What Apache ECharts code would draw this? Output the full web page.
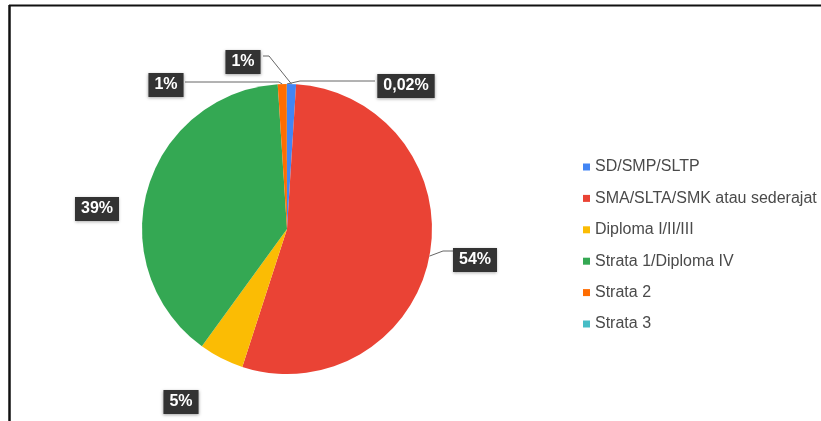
<!DOCTYPE html>
<html>
<head>
<meta charset="utf-8">
<script src="https://cdn.jsdelivr.net/npm/echarts@6/dist/echarts.min.js"></script>
<style>
  html, body { margin: 0; padding: 0; background: #ffffff; }
  #chart { width: 821px; height: 421px; }
</style>
</head>
<body>
<div id="chart"></div>
<script>
// Education levels and their share (%)
const categories = [
  'SD/SMP/SLTP',
  'SMA/SLTA/SMK atau sederajat',
  'Diploma I/II/III',
  'Strata 1/Diploma IV',
  'Strata 2',
  'Strata 3'
];
const shares = [1, 54, 5, 39, 1, 0.02];

// Slice colours
const colors = ['#4285F4', '#EA4335', '#FBBC04', '#34A853', '#FF6D01', '#46BDC6'];

// Label box centres and leader-line bends, per slice
const labelCentres = [[243, 62], [475, 260], [181, 402], [97, 209], [166, 85], [406, 86]];
const leaderBends = [[[269, 56], [263, 56]], [[443, 251], [453, 251]], null, null, [[279, 82], [185, 82]], [[300, 81], [375, 81]]];

const chart = echarts.init(document.getElementById('chart'), null, { renderer: 'canvas' });

const data = categories.map((name, i) => ({
  name: name,
  value: shares[i],
  itemStyle: { color: colors[i] },
  labelLine: { show: leaderBends[i] !== null }
}));

chart.setOption({
  backgroundColor: '#ffffff',
  animation: false,
  legend: {
    orient: 'vertical',
    left: 578,
    top: 154,
    icon: 'rect',
    itemWidth: 7,
    itemHeight: 7,
    itemGap: 15.4,
    textStyle: {
      fontFamily: 'Liberation Sans, Arial, sans-serif',
      fontSize: 16,
      lineHeight: 16,
      color: '#4a4a4a'
    },
    data: categories
  },
  series: [{
    type: 'pie',
    center: [287, 229],
    radius: 145,
    startAngle: 90,
    clockwise: true,
    avoidLabelOverlap: false,
    data: data,
    label: {
      show: true,
      position: 'outside',
      formatter: p => String(p.value).replace('.', ',') + '%',
      color: '#ffffff',
      fontFamily: 'Liberation Sans, Arial, sans-serif',
      fontWeight: 'bold',
      fontSize: 16,
      lineHeight: 16,
      backgroundColor: '#333333',
      padding: [4, 6],
      shadowColor: 'rgba(0,0,0,0.35)',
      shadowBlur: 3,
      shadowOffsetY: 1
    },
    labelLine: {
      show: true,
      length: 10,
      length2: 10,
      lineStyle: { color: '#666666', width: 1 }
    },
    labelLayout: function (params) {
      const i = params.dataIndex;
      const c = labelCentres[i];
      const out = { x: c[0], y: c[1], align: 'center', verticalAlign: 'middle' };
      const bends = leaderBends[i];
      if (bends && params.labelLinePoints) {
        out.labelLinePoints = [params.labelLinePoints[0], bends[0], bends[1]];
      }
      return out;
    },
    emphasis: { disabled: true }
  }],
  graphic: [
    { type: 'line', shape: { x1: 9, y1: 5.5, x2: 821, y2: 5.5 }, style: { stroke: '#111111', lineWidth: 2 } },
    { type: 'line', shape: { x1: 9.5, y1: 5, x2: 9.5, y2: 421 }, style: { stroke: '#111111', lineWidth: 2.5 } }
  ]
});
</script>
</body>
</html>
